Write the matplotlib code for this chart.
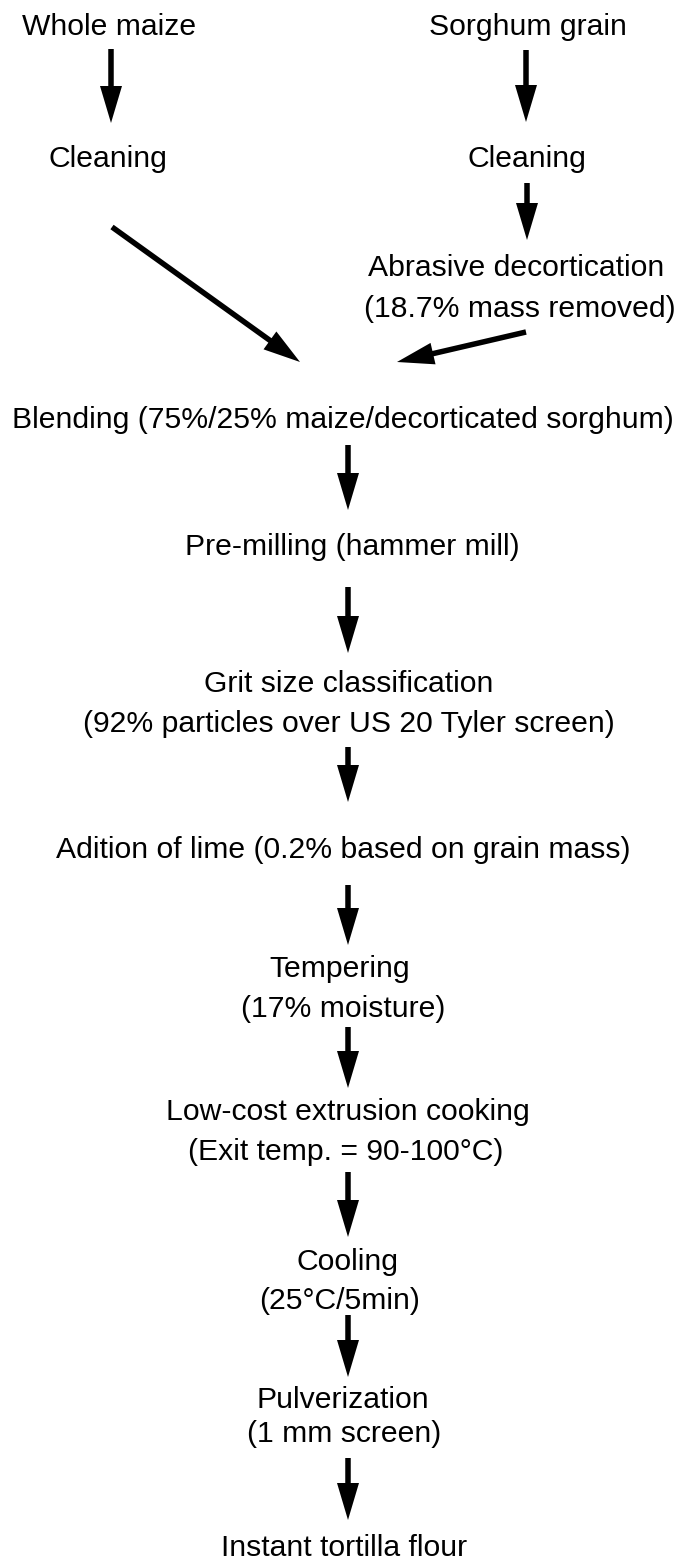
import matplotlib.pyplot as plt

# flow chart text, one entry per line of text
left_labels = ["Whole maize", "Cleaning"]
right_labels = ["Sorghum grain", "Cleaning", "Abrasive decortication",
                "(18.7% mass removed)"]
main_labels = [
    "Blending (75%/25% maize/decorticated sorghum)",
    "Pre-milling (hammer mill)",
    "Grit size classification",
    "(92% particles over US 20 Tyler screen)",
    "Adition of lime (0.2% based on grain mass)",
    "Tempering",
    "(17% moisture)",
    "Low-cost extrusion cooking",
    "(Exit temp. = 90-100\u00b0C)",
    "Cooling",
    "(25\u00b0C/5min)",
    "Pulverization",
    "(1 mm screen)",
    "Instant tortilla flour",
]

# layout in pixel coordinates (x centre, baseline y)
left_pos = [(109, 35), (108, 167)]
right_pos = [(528, 35), (527, 167), (516, 276), (520, 317)]
main_pos = [(343, 428), (352, 555), (349, 692), (349, 732), (343, 858),
            (340, 977), (343, 1017), (348, 1120), (346, 1160), (347, 1270),
            (340, 1309), (343, 1408), (344, 1442), (344, 1556)]

# arrows: (x0, y0, x1, y1)
arrows = [
    (111, 49, 111, 123),
    (526, 50, 526, 122),
    (527, 183, 527, 240),
    (112, 227, 300, 362),
    (526, 332, 397, 362),
    (348, 445, 348, 510),
    (348, 587, 348, 653),
    (348, 747, 348, 802),
    (348, 885, 348, 945),
    (348, 1027, 348, 1088),
    (348, 1172, 348, 1237),
    (348, 1315, 348, 1377),
    (348, 1458, 348, 1520),
]

W, H = 680, 1561
fig = plt.figure(figsize=(W / 100, H / 100), dpi=100)
ax = fig.add_axes([0, 0, 1, 1])
ax.set_xlim(0, W)
ax.set_ylim(H, 0)
ax.axis('off')

font = dict(family='Liberation Sans', fontsize=21.7, color='black',
            ha='center', va='baseline')

for labels, pos in [(left_labels, left_pos), (right_labels, right_pos),
                    (main_labels, main_pos)]:
    for txt, (x, y) in zip(labels, pos):
        ax.text(x, y, txt, **font)

for x0, y0, x1, y1 in arrows:
    ax.arrow(x0, y0, x1 - x0, y1 - y0, width=5.5, head_width=22,
             head_length=37, length_includes_head=True,
             color='black', lw=0)

fig.savefig('out.png', dpi=100, facecolor='white')
